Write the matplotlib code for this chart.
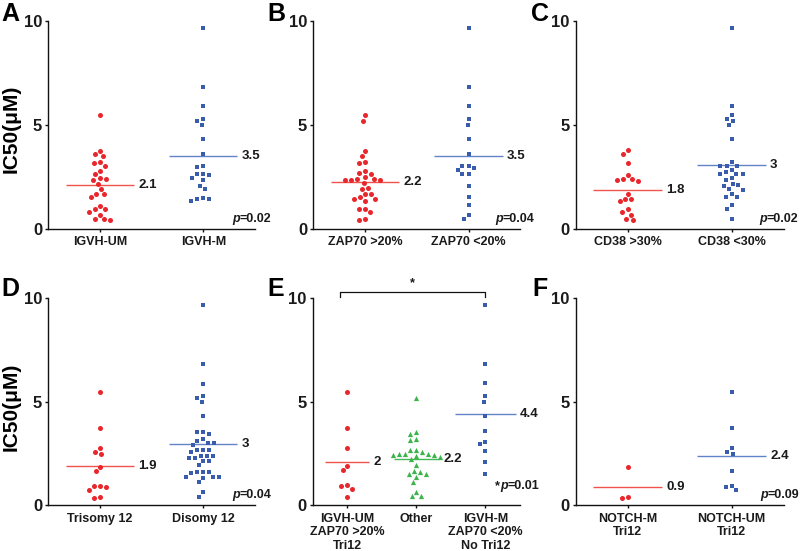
import numpy as np
import matplotlib
matplotlib.use('Agg')
import matplotlib.pyplot as plt

plt.rcParams['font.family'] = ['Liberation Sans', 'DejaVu Sans']

# ---------------- data (IC50, µM) ----------------
a_cats = ['IGVH-UM', 'IGVH-M']
a_um = [5.46, 3.75, 3.49, 3.59, 3.17, 3.21, 3.03, 2.76, 2.64, 2.42, 2.36, 2.40, 2.15,
        1.89, 1.65, 1.68, 1.52, 0.93, 0.93, 1.09, 0.80, 0.67, 0.48, 0.40, 0.45]
a_m = [9.66, 6.83, 5.88, 5.19, 5.27, 4.98, 4.29, 3.57, 2.98, 3.03, 2.60, 2.64, 2.63,
       2.45, 2.32, 2.07, 1.92, 1.41, 1.35, 1.41, 1.49]
a_means = [2.12, 3.52]
a_mlabels = ['2.1', '3.5']
a_p = 'p=0.02'

b_cats = ['ZAP70 >20%', 'ZAP70 <20%']
b_hi = [5.46, 5.19, 3.75, 3.49, 3.19, 3.17, 2.77, 2.64, 2.66, 2.47, 2.40, 2.34, 2.32,
        2.34, 2.40, 2.18, 1.94, 1.89, 1.65, 1.65, 1.41, 1.31, 1.41, 1.52, 0.93, 0.93,
        0.79, 0.40, 0.46]
b_lo = [9.66, 6.83, 5.88, 5.27, 4.98, 4.29, 3.57, 3.03, 2.84, 2.93, 3.03, 2.61, 2.63,
        2.07, 1.51, 1.14, 0.66, 0.46]
b_means = [2.24, 3.52]
b_mlabels = ['2.2', '3.5']
b_p = 'p=0.04'

c_cats = ['CD38 >30%', 'CD38 <30%']
c_hi = [3.77, 3.59, 3.17, 2.60, 2.40, 2.31, 2.34, 2.40, 1.68, 1.41, 1.31, 1.41, 0.93,
        0.67, 0.80, 0.40, 0.46]
c_lo = [9.66, 5.88, 5.27, 5.46, 5.18, 4.98, 4.29, 3.19, 3.01, 3.03, 3.03, 2.82, 2.63,
        2.74, 2.64, 2.64, 2.45, 2.34, 2.16, 2.08, 2.07, 1.92, 1.88, 1.65, 1.52, 1.52,
        1.14, 0.95, 0.45]
c_means = [1.84, 3.06]
c_mlabels = ['1.8', '3']
c_p = 'p=0.02'

d_cats = ['Trisomy 12', 'Disomy 12']
d_tri = [5.48, 3.75, 2.75, 2.58, 2.46, 1.87, 1.64, 0.95, 0.90, 0.95, 0.76, 0.35, 0.42]
d_di = [9.66, 6.81, 5.88, 5.20, 5.28, 4.99, 4.30, 3.54, 3.46, 3.54, 3.20, 2.99, 2.93,
        2.99, 3.12, 2.67, 2.59, 2.67, 2.67, 2.40, 2.30, 2.30, 2.40, 2.40, 2.13, 2.13,
        1.93, 1.63, 1.63, 1.55, 1.63, 1.38, 1.30, 1.38, 1.38, 1.11, 0.63, 0.42]
d_means = [1.90, 2.98]
d_mlabels = ['1.9', '3']
d_p = 'p=0.04'

e_cats = ['IGVH-UM\nZAP70 >20%\nTri12', 'Other', 'IGVH-M\nZAP70 <20%\nNo Tri12']
e_um = [5.48, 3.75, 2.77, 1.88, 1.69, 0.98, 0.95, 0.79, 0.40]
e_other = [5.20, 3.53, 3.46, 3.19, 3.16, 2.66, 2.66, 2.58, 2.47, 2.45, 2.46, 2.44,
           2.48, 2.35, 2.36, 2.22, 1.95, 1.67, 1.51, 1.52, 1.38, 1.63, 1.14, 0.66,
           0.45, 0.46]
e_m = [9.68, 6.83, 5.89, 5.30, 5.01, 4.33, 3.59, 3.04, 2.95, 2.64, 2.08, 1.51]
e_means = [2.08, 2.25, 4.40]
e_mlabels = ['2', '2.2', '4.4']
e_p = '*p=0.01'

f_cats = ['NOTCH-M\nTri12', 'NOTCH-UM\nTri12']
f_m = [1.87, 0.35, 0.42]
f_um = [5.48, 3.75, 2.79, 2.58, 2.46, 1.64, 0.95, 0.90, 0.76]
f_means = [0.89, 2.36]
f_mlabels = ['0.9', '2.4']
f_p = 'p=0.09'

# ---------------- style ----------------
RED, RED_L = '#e8262b', '#f0524c'
BLUE, BLUE_L = '#3a5cad', '#6383c9'
GREEN, GREEN_L = '#3bb54b', '#44b855'
TXT = '#1a1a1a'


def swarm(vals, ppx, ppy, d):
    vals = np.asarray(vals, float)
    order = np.argsort(-vals, kind='stable')
    placed = []
    offs = np.zeros(len(vals))
    for i in order:
        y = vals[i] * ppy
        nb = [(px, py) for px, py in placed if abs(py - y) < d]
        cands = [0.0]
        for px, py in nb:
            dx = np.sqrt(d * d - (py - y) ** 2)
            cands += [px - dx, px + dx]
        cands.sort(key=lambda c: (abs(c), c))
        chosen = 0.0
        for c in cands:
            if all((c - px) ** 2 + (y - py) ** 2 >= d * d - 1e-6 for px, py in nb):
                chosen = c
                break
        placed.append((chosen, y))
        offs[i] = chosen / ppx
    return offs


fig = plt.figure(figsize=(8, 5.51), dpi=100)


def panel(rect, letter, letter_xy, groups, cats, means, mlabels, colors, lcolors,
          markers, sizes, halfw, xlim, ptxt, p_xy):
    ax = fig.add_axes(rect)
    ax.set_xlim(*xlim)
    ax.set_ylim(0, 10)
    ppx = ax.bbox.width / (xlim[1] - xlim[0])
    ppy = ax.bbox.height / 10.0
    for i, vals in enumerate(groups):
        off = swarm(vals, ppx, ppy, 6.1)
        ax.scatter(i + off, vals, s=sizes[i], marker=markers[i], color=colors[i],
                   linewidths=0, clip_on=False, zorder=3)
        hw = halfw[i]
        ax.plot([i - hw, i + hw], [means[i]] * 2, color=lcolors[i], lw=1.0,
                zorder=2, solid_capstyle='butt')
        ax.text(i + hw + 4.0 / ppx, means[i], mlabels[i], ha='left', va='center',
                fontsize=9.5, fontweight='bold', color=TXT)
    for s in ['top', 'right']:
        ax.spines[s].set_visible(False)
    for s in ['left', 'bottom']:
        ax.spines[s].set_linewidth(1.0)
        ax.spines[s].set_color('#111111')
    ax.set_xticks(range(len(groups)))
    ax.set_xticklabels(cats, fontsize=9, fontweight='bold', color=TXT, linespacing=1.15)
    ax.set_yticks([0, 5, 10])
    ax.set_yticklabels(['0', '5', '10'], fontsize=12, fontweight='bold', color=TXT)
    ax.tick_params(axis='x', length=2.5, width=1.0, pad=3, color='#111111')
    ax.tick_params(axis='y', length=2.5, width=1.0, pad=2, color='#111111')
    # p value text with italic p
    parts = ptxt.split('p')
    t = ax.text(p_xy[0], p_xy[1], parts[1], transform=ax.transAxes, ha='right',
                va='baseline', fontsize=9, fontweight='bold', color=TXT)
    tp = ax.annotate('p', xy=(0, 0), xycoords=t, ha='right', va='bottom',
                     fontsize=9, fontweight='bold', fontstyle='italic', color=TXT)
    if parts[0]:
        ax.annotate(parts[0], xy=(0, 0), xycoords=tp, ha='right', va='bottom',
                    fontsize=9, fontweight='bold', color=TXT)
    fig.text(letter_xy[0], letter_xy[1], letter, ha='left', va='top',
             fontsize=18, fontweight='bold', color='black')
    return ax


ROW1 = (0.5849, 0.3775)
ROW2 = (0.0829, 0.3757)
two = dict(halfw=[0.33, 0.33], xlim=(-0.5, 1.5))
rb = dict(colors=[RED, BLUE], lcolors=[RED_L, BLUE_L], markers=['o', 's'], sizes=[13, 11])

panel([0.0606, ROW1[0], 0.258, ROW1[1]], 'A', (0.002, 0.996), [a_um, a_m], a_cats,
      a_means, a_mlabels, ptxt=a_p, p_xy=(1.08, 0.034), **rb, **two)
panel([0.3916, ROW1[0], 0.2588, ROW1[1]], 'B', (0.334, 0.996), [b_hi, b_lo], b_cats,
      b_means, b_mlabels, ptxt=b_p, p_xy=(1.07, 0.034), **rb, **two)
panel([0.7196, ROW1[0], 0.26, ROW1[1]], 'C', (0.664, 0.996), [c_hi, c_lo], c_cats,
      c_means, c_mlabels, ptxt=c_p, p_xy=(1.07, 0.034), **rb, **two)
panel([0.0606, ROW2[0], 0.258, ROW2[1]], 'D', (0.002, 0.498), [d_tri, d_di], d_cats,
      d_means, d_mlabels, ptxt=d_p, p_xy=(1.08, 0.034), **rb, **two)
axE = panel([0.3909, ROW2[0], 0.259, ROW2[1]], 'E', (0.334, 0.498),
            [e_um, e_other, e_m], e_cats, e_means, e_mlabels,
            colors=[RED, GREEN, BLUE], lcolors=[RED_L, GREEN_L, BLUE_L],
            markers=['o', '^', 's'], sizes=[13, 14, 11], halfw=[0.32, 0.33, 0.44],
            xlim=(-0.5, 2.5), ptxt=e_p, p_xy=(1.095, 0.08))
panel([0.7196, ROW2[0], 0.26, ROW2[1]], 'F', (0.665, 0.498), [f_m, f_um], f_cats,
      f_means, f_mlabels, ptxt=f_p, p_xy=(1.075, 0.034), **rb, **two)

# significance bracket in E
axE.plot([-0.1, -0.1, 2.0, 2.0], [10.05, 10.3, 10.3, 10.05], color='#111111', lw=0.9,
         clip_on=False)
axE.text(0.95, 10.42, '*', ha='center', va='bottom', fontsize=9, fontweight='bold',
         color=TXT)

# y-axis labels
for y in (0.766, 0.262):
    fig.text(0.0135, y, 'IC50(μM)', rotation=90, ha='center', va='center',
             fontsize=15, fontweight='bold', color='black')

fig.savefig('out.png', dpi=100)
